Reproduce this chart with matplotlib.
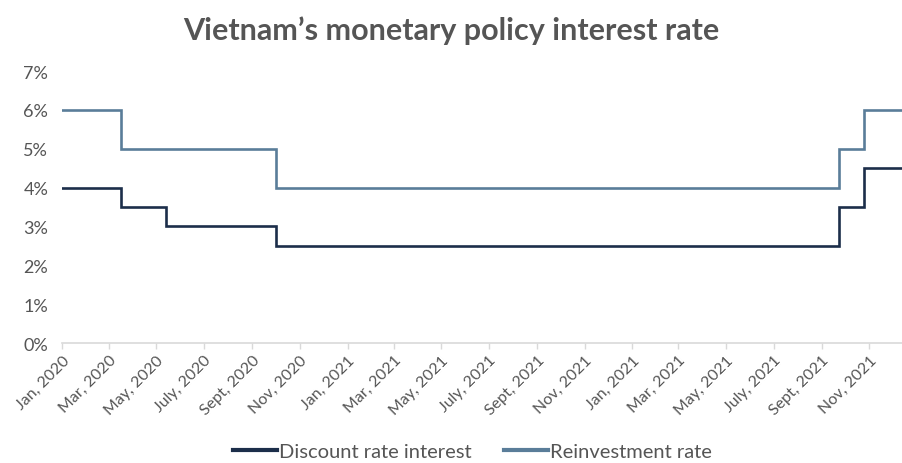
import matplotlib
matplotlib.use("Agg")
import matplotlib.pyplot as plt
from matplotlib.ticker import FuncFormatter
import pandas as pd

# Policy rate changes (date each rate took effect) and the last observation
change_dates = ["2020-01-01", "2020-03-17", "2020-05-13", "2020-10-01",
                "2022-09-23", "2022-10-25", "2022-12-14"]
discount_rate = [4.0, 3.5, 3.0, 2.5, 3.5, 4.5, 4.5]
reinvestment_rate = [6.0, 5.0, 5.0, 4.0, 5.0, 6.0, 6.0]

tick_dates = pd.date_range("2020-01-01", periods=18, freq="2MS")
tick_labels = ["Jan, 2020", "Mar, 2020", "May, 2020", "July, 2020", "Sept, 2020",
               "Nov, 2020", "Jan, 2021", "Mar, 2021", "May, 2021", "July, 2021",
               "Sept, 2021", "Nov, 2021", "Jan, 2021", "Mar, 2021", "May, 2021",
               "July, 2021", "Sept, 2021", "Nov, 2021"]

dates = pd.to_datetime(change_dates)

plt.rcParams["font.family"] = ["Lato", "DejaVu Sans"]
text_gray = "#555555"
dark_navy = "#1c2e4a"
steel_blue = "#5a7d99"

fig = plt.figure(figsize=(9.03, 4.64), dpi=100)
ax = fig.add_axes([0.0687, 0.2586, 0.9313, 0.5862])

ax.plot(dates, discount_rate, drawstyle="steps-post", color=dark_navy,
        lw=1.9, label="Discount rate interest", solid_joinstyle="miter")
ax.plot(dates, reinvestment_rate, drawstyle="steps-post", color=steel_blue,
        lw=1.9, label="Reinvestment rate", solid_joinstyle="miter")

ax.set_ylim(0, 7)
ax.set_yticks(range(0, 8))
ax.yaxis.set_major_formatter(FuncFormatter(lambda v, _: f"{int(v)}%"))
ax.set_xlim(dates[0], dates[-1])
ax.set_xticks(tick_dates)
ax.set_xticklabels(tick_labels, rotation=45, ha="right", rotation_mode="anchor")

for side in ("top", "right", "left"):
    ax.spines[side].set_visible(False)
ax.spines["bottom"].set_color("#d9d9d9")
ax.spines["bottom"].set_linewidth(1.2)
ax.tick_params(axis="y", length=0, labelsize=13, labelcolor=text_gray, pad=10)
ax.tick_params(axis="x", length=4, color="#d9d9d9", width=1,
               labelsize=11.5, labelcolor=text_gray, pad=3)

fig.text(0.5, 0.935, "Vietnam\u2019s monetary policy interest rate",
         ha="center", va="center", fontsize=22, fontweight="bold", color=text_gray)

leg = fig.legend(loc="center", bbox_to_anchor=(0.523, 0.025), ncol=2, frameon=False,
                 fontsize=14.5, labelcolor=text_gray, handlelength=2.2,
                 handletextpad=0.1, columnspacing=1.6)
for line in leg.get_lines():
    line.set_linewidth(3.0)

fig.savefig("out.png", dpi=100)
